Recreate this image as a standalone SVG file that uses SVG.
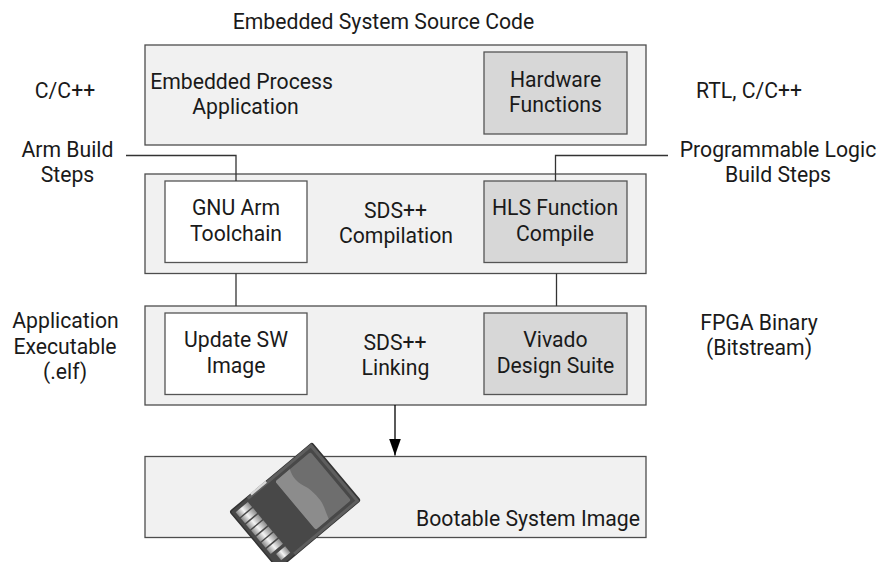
<svg xmlns="http://www.w3.org/2000/svg" width="880" height="562" viewBox="0 0 880 562">
<style>
text{font-family:Roboto,"Liberation Sans",sans-serif;font-size:21.2px;fill:#1a1a1a;text-anchor:middle}
.outer{fill:#f1f1f1;stroke:#4d4d4d;stroke-width:1.3}
.dark{fill:#d7d7d7;stroke:#555;stroke-width:1.3}
.white{fill:#fff;stroke:#555;stroke-width:1.3}
.line{fill:none;stroke:#333;stroke-width:1.3}
</style>
<defs>
<linearGradient id="pin" x1="0" y1="0" x2="1" y2="0"><stop offset="0" stop-color="#888"/><stop offset=".45" stop-color="#f4f4f4"/><stop offset="1" stop-color="#8a8a8a"/></linearGradient>
<marker id="arrow" markerUnits="userSpaceOnUse" markerWidth="17" markerHeight="12" refX="17" refY="6" orient="auto"><path d="M0 0L17 6L0 12Z" fill="#000"/></marker>
</defs>
<rect width="880" height="562" fill="#fff"/>
<text x="383.500" y="28.500">Embedded System Source Code</text>
<g id="source"><rect class="outer" x="145" y="45" width="501" height="100"/>
<text x="241.500" y="89">Embedded Process</text><text x="245.500" y="114">Application</text></g>
<g id="hardware"><rect class="dark" x="484" y="52" width="143" height="82"/>
<text x="555.500" y="87">Hardware</text><text x="555.500" y="112">Functions</text></g>
<text x="65" y="98">C/C++</text>
<text x="749" y="98">RTL, C/C++</text>
<text x="67.500" y="156.500">Arm Build</text><text x="67.500" y="182">Steps</text>
<text x="778" y="156.500">Programmable Logic</text><text x="778" y="182">Build Steps</text>
<g id="compile"><rect class="outer" x="145" y="174" width="501" height="99.500"/>
<text x="395.500" y="218">SDS++</text><text x="396" y="243">Compilation</text></g>
<g id="gnu"><rect class="white" x="165" y="181" width="142" height="81.500"/>
<text x="236" y="215">GNU Arm</text><text x="236" y="240.500">Toolchain</text></g>
<g id="hls"><rect class="dark" x="484" y="181" width="143" height="81.500"/>
<text x="555" y="215">HLS Function</text><text x="555" y="240.500">Compile</text></g>
<text x="65.500" y="328">Application</text><text x="65" y="354">Executable</text><text x="65" y="379">(.elf)</text>
<text x="759" y="330">FPGA Binary</text><text x="759" y="355">(Bitstream)</text>
<g id="link"><rect class="outer" x="145" y="306" width="501" height="99"/>
<text x="395" y="350">SDS++</text><text x="395.500" y="375">Linking</text></g>
<g id="update"><rect class="white" x="165" y="313" width="142" height="81.500"/>
<text x="236" y="347">Update SW</text><text x="236" y="372.500">Image</text></g>
<g id="vivado"><rect class="dark" x="484" y="313" width="143" height="81.500"/>
<text x="555.500" y="347">Vivado</text><text x="555.500" y="372.500">Design Suite</text></g>
<g id="image"><rect class="outer" x="145" y="456.500" width="501" height="81"/>
<text x="528" y="525.500">Bootable System Image</text></g>
<g id="connectors">
<path class="line" d="M126 155.500H236V181"/>
<path class="line" d="M668 155.500H555.500V181"/>
<path class="line" d="M236 273.500V306"/>
<path class="line" d="M556.500 273.500V306"/>
<path class="line" style="stroke:#000" d="M395 405V455.500" marker-end="url(#arrow)"/>
</g>
<g id="sdcard" transform="translate(230 511.700) rotate(-40)">
<rect x="0" y="0" width="107" height="75" rx="2" fill="#484848" stroke="#333" stroke-width="1.500"/>
<path d="M22 1.500H104.500V73.500H22" fill="none" stroke="#5e5e5e" stroke-width="3"/>
<rect x="27" y="-1" width="20" height="2.500" fill="#d8d8d8"/>
<rect x="54" y="6" width="46" height="63" rx="2" fill="#6e6e6e"/>
<path d="M54 8Q54 6 56 6H73C70 14 70 20 73 27C76 33 77 42 76.500 49C76 56 73 62 71 69H56Q54 69 54 67Z" fill="#8c8c8c"/>
<g fill="url(#pin)">
<rect x="4" y="4" width="16" height="6.500"/><rect x="4" y="12" width="16" height="6.500"/>
<rect x="4" y="20" width="16" height="6.500"/><rect x="4" y="28" width="16" height="6.500"/>
<rect x="4" y="36" width="16" height="6.500"/><rect x="4" y="44" width="16" height="6.500"/>
<rect x="4" y="52" width="16" height="6.500"/><rect x="8" y="62" width="12" height="8"/>
</g>
</g>
</svg>
